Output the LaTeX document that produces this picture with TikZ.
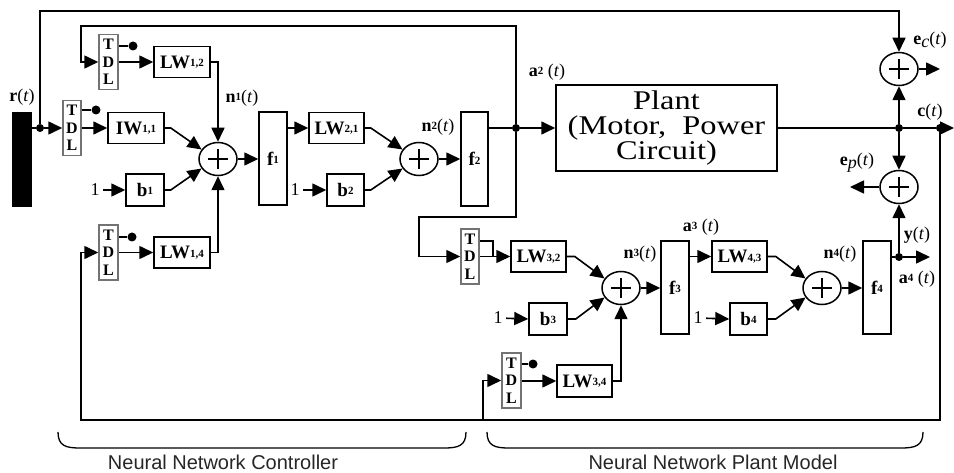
\documentclass[tikz,border=0pt]{standalone}
\usepackage{fontspec}
\setmainfont{Liberation Serif}
\newfontfamily\arialf{Liberation Sans}
\usetikzlibrary{arrows.meta,shapes.geometric}
\newcommand{\ix}[1]{\raisebox{1.5pt}{\fontsize{11}{11}\selectfont\bfseries #1}}
\newcommand{\ofT}{(\textit{t})}
\begin{document}
\begin{tikzpicture}[x=1pt,y=-1pt,
  wire/.style={line width=1.6pt},
  arr/.style={wire,-{Triangle[length=14pt,width=13pt]}},
  box/.style={draw,line width=1.5pt,inner sep=0pt,font=\fontsize{19}{19}\selectfont\bfseries},
  tdl/.style={draw=black!55,line width=1.5pt,minimum width=19pt,minimum height=55pt,inner sep=0pt,align=center,font=\fontsize{16}{17.5}\selectfont\bfseries},
  sumn/.style={ellipse,draw,line width=1.5pt,minimum width=38pt,minimum height=33pt,inner sep=0pt,
    path picture={\draw[line width=1.3pt] ([xshift=-10pt]path picture bounding box.center) -- ([xshift=10pt]path picture bounding box.center)
      ([yshift=-10pt]path picture bounding box.center) -- ([yshift=10pt]path picture bounding box.center);}},
  dot/.style={circle,fill,inner sep=0pt,minimum size=9pt},
  jdot/.style={circle,fill,inner sep=0pt,minimum size=8pt},
  lab/.style={font=\fontsize{18}{18}\selectfont},
  brlab/.style={font=\arialf\fontsize{20}{20}\selectfont,text=black!85}]
\useasboundingbox (0,0) rectangle (954,473);

% ---------- controller ----------
\node[fill=black,minimum width=20pt,minimum height=95pt,inner sep=0pt] (bar) at (22,159.5) {};
\node[lab] (rl) at (22,97) {\textbf{r}\ofT};
\node[jdot] (jr) at (40,128) {};

\node[tdl] (tdlA) at (108.5,62) {T\\D\\L};
\node[dot] (dA) at (133,46) {};
\node[box,minimum width=56pt,minimum height=31pt] (LW12) at (182,62) {LW\ix{1,2}};

\node[tdl,minimum width=18pt] (tdlB) at (72,128) {T\\D\\L};
\node[dot] (dB) at (96,110) {};
\node[box,minimum width=56pt,minimum height=31pt] (IW11) at (136,128) {IW\ix{1,1}};

\node[lab] (one1) at (95,190) {1};
\node[box,minimum width=38pt,minimum height=32pt] (b1) at (145,190) {b\ix{1}};

\node[tdl] (tdlC) at (108.5,252.5) {T\\D\\L};
\node[dot] (dC) at (132,237) {};
\node[box,minimum width=56pt,minimum height=31pt] (LW14) at (182,252.5) {LW\ix{1,4}};

\node[sumn] (s1) at (218,159) {};
\node[lab] (n1l) at (242,98) {\textbf{n}\ix{1}\ofT};
\node[box,minimum width=28pt,minimum height=93pt] (f1) at (273,158.5) {f\ix{1}};

\node[box,minimum width=55pt,minimum height=31pt] (LW21) at (336.5,128) {LW\ix{2,1}};
\node[lab] (one2) at (295,190) {1};
\node[box,minimum width=37pt,minimum height=32pt] (b2) at (345.5,190) {b\ix{2}};
\node[sumn] (s2) at (419,159) {};
\node[lab] (n2l) at (438,127) {\textbf{n}\ix{2}\ofT};
\node[box,minimum width=27pt,minimum height=94pt] (f2) at (474.5,159) {f\ix{2}};
\node[jdot] (ja2) at (516,128) {};
\node[lab] (a2l) at (547,72) {\textbf{a}\ix{2} \ofT};

% ---------- plant ----------
\node[draw,line width=1.5pt,minimum width=221pt,minimum height=86pt,inner sep=0pt,align=center,
  font=\fontsize{27}{25}\selectfont] (plant) at (666.5,128)
  {\scalebox{1.2}[1]{Plant}\\\scalebox{1.2}[1]{(Motor,\ \ Power}\\\scalebox{1.2}[1]{Circuit)}};
\node[jdot] (jc) at (899,128) {};
\node[jdot] (jo) at (940,128) {};
\coordinate (cout) at (954,128);
\node[sumn] (sec) at (899,69) {};
\node[sumn] (sep) at (899,187) {};
\coordinate (ecout) at (940,69);
\coordinate (epout) at (850,187);
\node[lab] (ecl) at (930,40) {\textbf{e}\raisebox{-3pt}{\textit{c}}\ofT};
\node[lab] (cl) at (930,112) {\textbf{c}\ofT};
\node[lab] (epl) at (857,163) {\textbf{e}\raisebox{-3pt}{\textit{p}}\ofT};

% ---------- plant model ----------
\node[tdl,minimum width=18pt] (tdl32) at (470,256.5) {T\\D\\L};
\coordinate (k1) at (493,241);
\node[box,minimum width=55pt,minimum height=31pt] (LW32) at (538.5,256.5) {LW\ix{3,2}};
\node[lab] (one3) at (498,318) {1};
\node[box,minimum width=38pt,minimum height=32pt] (b3) at (548,319) {b\ix{3}};
\node[sumn] (s3) at (621,288) {};
\node[lab] (n3l) at (640,254) {\textbf{n}\ix{3}\ofT};
\node[box,minimum width=28pt,minimum height=93pt] (f3) at (675,287.5) {f\ix{3}};
\node[lab] (a3l) at (701,227) {\textbf{a}\ix{3} \ofT};
\node[box,minimum width=55pt,minimum height=31pt] (LW43) at (739.5,256.5) {LW\ix{4,3}};
\node[lab] (one4) at (698,318) {1};
\node[box,minimum width=37pt,minimum height=32pt] (b4) at (748.5,319) {b\ix{4}};
\node[sumn] (s4) at (822,288) {};
\node[lab] (n4l) at (840,254) {\textbf{n}\ix{4}\ofT};
\node[box,minimum width=28pt,minimum height=93pt] (f4) at (877,287.5) {f\ix{4}};
\node[jdot] (jy) at (899,257) {};
\coordinate (yout) at (930,257);
\node[lab] (yl) at (917,235) {\textbf{y}\ofT};
\node[lab] (a4l) at (917,279) {\textbf{a}\ix{4} \ofT};

\node[tdl] (tdl34) at (511.5,380.5) {T\\D\\L};
\node[dot] (d34) at (533,364) {};
\node[box,minimum width=55pt,minimum height=32pt] (LW34) at (584.5,381) {LW\ix{3,4}};

\coordinate (top) at (470,11);
\coordinate (lp1) at (81,26);
\coordinate (lp2) at (419,217);
\coordinate (bl) at (81,420);
\coordinate (br) at (483,420);

% ---------- connectors ----------
\draw[wire] (bar.east |- jr) -- (jr);
\draw[arr] (jr) -- (tdlB.west);
\draw[arr] (jr) |- (top) -| (sec.north);

\draw[wire] (tdlA.east |- dA) -- (dA);
\draw[arr] (tdlA.east) -- (LW12.west);
\draw[arr] (LW12.east) -| (s1.north);

\draw[wire] (tdlB.east |- dB) -- (dB);
\draw[arr] (tdlB.east) -- (IW11.west);
\draw[arr] (IW11.east) -- ++(6,0) -- (s1.150);
\draw[arr] (one1) -- (b1.west);
\draw[arr] (b1.east) -- ++(6,0) -- (s1.210);

\draw[wire] (tdlC.east |- dC) -- (dC);
\draw[arr] (tdlC.east) -- (LW14.west);
\draw[arr] (LW14.east) -| (s1.south);

\draw[arr] (s1.east) -- (f1.west |- s1);
\draw[arr] (f1.east |- LW21) -- (LW21.west);
\draw[arr] (one2) -- (b2.west);
\draw[arr] (LW21.east) -- ++(6,0) -- (s2.150);
\draw[arr] (b2.east) -- ++(6,0) -- (s2.210);
\draw[arr] (s2.east) -- (f2.west |- s2);
\draw[wire] (f2.east |- ja2) -- (ja2);
\draw[arr] (ja2) -- (plant.west);
\draw[arr] (ja2) |- (lp1) |- (tdlA.west);
\draw[arr] (ja2) |- (lp2) |- (tdl32.west);

\draw[wire] (plant.east) -- (jc);
\draw[wire] (jc) -- (jo);
\draw[arr] (jo) -- (cout);
\draw[arr] (jc) -- (sec.south);
\draw[arr] (sec.east) -- (ecout);
\draw[arr] (jc) -- (sep.north);
\draw[arr] (sep.west) -- (epout);

\draw[wire] (tdl32.east |- k1) -- (k1) -- (k1 |- tdl32);
\draw[arr] (tdl32.east) -- (LW32.west);
\draw[arr] (LW32.east) -- ++(8,0) -- (s3.150);
\draw[arr] (one3) -- (b3.west);
\draw[arr] (b3.east) -- ++(8,0) -- (s3.210);
\draw[wire] (tdl34.east |- d34) -- (d34);
\draw[arr] (tdl34.east |- LW34) -- (LW34.west);
\draw[arr] (LW34.east) -| (s3.south);
\draw[arr] (s3.east) -- (f3.west |- s3);
\draw[arr] (f3.east |- LW43) -- (LW43.west);
\draw[arr] (one4) -- (b4.west);
\draw[arr] (LW43.east) -- ++(8,0) -- (s4.150);
\draw[arr] (b4.east) -- ++(8,0) -- (s4.210);
\draw[arr] (s4.east) -- (f4.west |- s4);
\draw[wire] (f4.east |- jy) -- (jy);
\draw[arr] (jy) -- (yout);
\draw[arr] (jy) -- (sep.south);

\draw[arr] (jo) |- (bl) |- (tdlC.west);
\draw[arr] (br) |- (tdl34.west);

% ---------- braces ----------
\draw[line width=1.3pt] (58,432) .. controls (58,446) and (66,448) .. (80,448) -- (444,448) .. controls (458,448) and (466,446) .. (466,432);
\draw[line width=1.3pt] (487,432) .. controls (487,446) and (495,448) .. (509,448) -- (901,448) .. controls (915,448) and (923,446) .. (923,432);
\node[brlab] (bc) at (223,462) {Neural Network Controller};
\node[brlab] (bp) at (713,462) {Neural Network Plant Model};
\end{tikzpicture}
\end{document}
